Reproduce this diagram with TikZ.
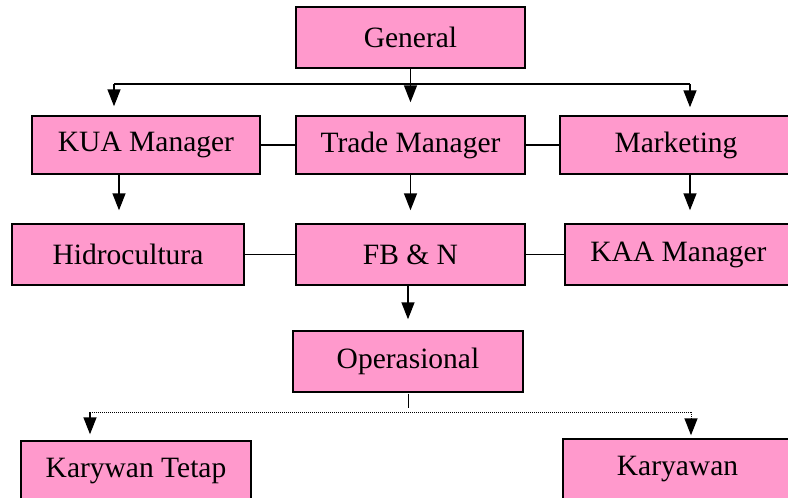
\documentclass[tikz,border=0pt]{standalone}
\usepackage{fontspec}
\setmainfont{Liberation Serif}
\usetikzlibrary{arrows.meta,positioning}
\definecolor{OrgPink}{HTML}{FF99CC}
\tikzset{
  unit/.style={
    draw=black,
    line width=1.4pt,
    fill=OrgPink,
    inner sep=0pt,
    minimum width=229pt,
    minimum height=61pt,
    font=\fontsize{29.5}{34}\selectfont
  },
  link/.style={
    line width=1.4pt,
    draw=black
  },
  downarrow/.style={
    -{Triangle[length=17pt,width=13pt]},
    line width=1.4pt,
    draw=black
  },
  dotline/.style={
    line width=1pt,
    densely dotted
  }
}

\begin{document}
\begin{tikzpicture}[x=1pt,y=-1pt]
\useasboundingbox (0,0) rectangle (788,498);
\node[unit] (general) at (410.5,37.5) {General};
\node[unit, minimum width=228pt, minimum height=58pt] (kua) at (146,145) {KUA Manager};
\node[unit, minimum height=58pt] (trade) at (410.5,145) {Trade Manager};
\node[unit, minimum width=232pt, minimum height=58pt] (marketing) at (676,145) {Marketing};
\node[unit, minimum width=232pt] (hidro) at (128,254.5) {Hidrocultura};
\node[unit] (fbn) at (410.5,254.5) {FB \& N};
\node[unit, minimum width=227pt] (kaa) at (678.5,254.5) {KAA Manager};
\node[unit, minimum width=230pt] (oper) at (408,361.5) {Operasional};
\node[unit, minimum width=230pt] (tetap) at (136,471.5) {Karywan Tetap};
\node[unit] (karyawan) at (677.5,469.5) {Karyawan};

\coordinate (barL) at (114,84);
\coordinate (barR) at (690,84);
\coordinate (dotL) at (90,412);
\coordinate (dotR) at (691,412);

% top level
\draw[downarrow, shorten >=13pt] (general.south) -- (trade.north);
\draw[link] (barL) -- (barR);
\draw[downarrow, shorten >=9pt] (barL) -- (barL |- kua.north);
\draw[downarrow, shorten >=8pt] (barR) -- (barR |- marketing.north);
\draw[link] (kua) -- (trade);
\draw[link] (trade) -- (marketing);

% second level
\draw[downarrow, shorten >=13pt] ([xshift=-27pt]kua.south) -- ([xshift=-27pt]kua.south |- hidro.north);
\draw[downarrow, shorten >=13pt] (trade.south) -- (fbn.north);
\draw[downarrow, shorten >=13pt] ([xshift=14pt]marketing.south) -- ([xshift=14pt]marketing.south |- kaa.north);
\draw[link] (hidro) -- (fbn);
\draw[link] (fbn) -- (kaa);

% operasional
\draw[downarrow, shorten >=11pt] ([xshift=-2.5pt]fbn.south) -- (oper.north);
\draw[link, line width=1pt] ([yshift=-1pt]oper.south) -- ([yshift=-15pt]oper.south);
\draw[dotline] (dotL) -- (dotR);
\draw[downarrow, shorten >=6pt] (dotL) -- (dotL |- tetap.north);
\draw[dotline] (dotR) -- ([yshift=12pt]dotR |- karyawan.north);
\draw[downarrow, shorten >=3pt] ([yshift=17pt]dotR |- karyawan.north) -- (dotR |- karyawan.north);
\end{tikzpicture}
\end{document}
